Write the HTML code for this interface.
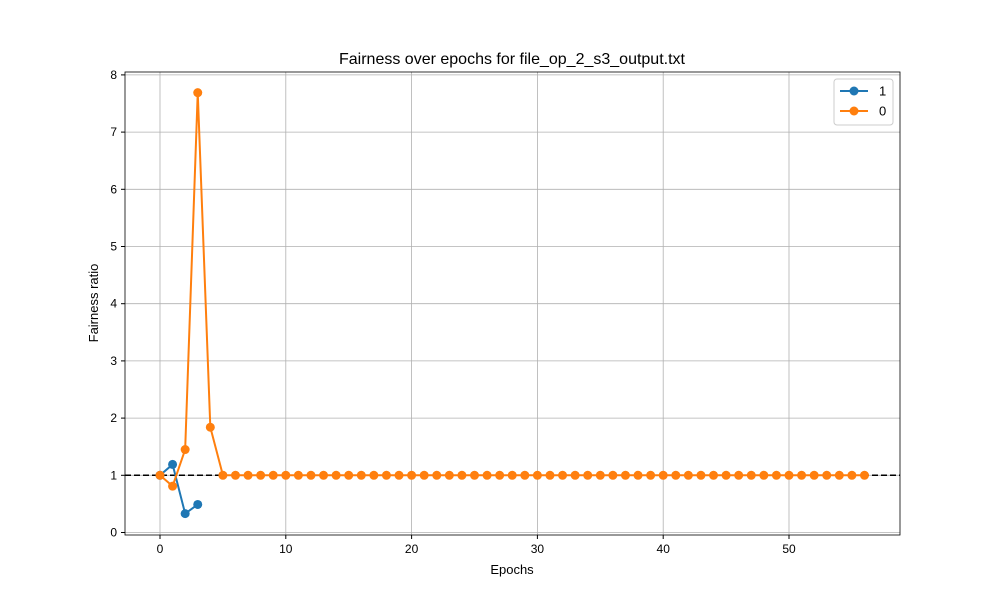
<!DOCTYPE html>
<html><head><meta charset="utf-8"><style>
body{margin:0;background:#fff;font-family:"Liberation Sans","DejaVu Sans",sans-serif;}
</style></head><body>
<svg id="chart" width="1000" height="600" xmlns="http://www.w3.org/2000/svg"></svg>
<script>
const epochs0 = Array.from({length:57},(_,i)=>i);
const series0 = [1.0,0.81,1.45,7.69,1.84].concat(Array(52).fill(1.0));
const epochs1 = [0,1,2,3];
const series1 = [1.0,1.19,0.33,0.49];
const xTicks = [0,10,20,30,40,50];
const yTicks = [0,1,2,3,4,5,6,7,8];
const L=125,R=900,T=72,B=535;
const sx=v=>160+v*(789-160)/50;
const sy=v=>532.5-v*57.2;
const svg=document.getElementById('chart');
const NS='http://www.w3.org/2000/svg';
function el(tag,attrs,parent){const e=document.createElementNS(NS,tag);for(const k in attrs)e.setAttribute(k,attrs[k]);(parent||svg).appendChild(e);return e;}
function txt(s,attrs){const t=el('text',attrs);t.textContent=s;return t;}
// grid
xTicks.forEach(v=>{const g=el('line',{x1:sx(v),x2:sx(v),y1:T,y2:B,stroke:'#b0b0b0','stroke-width':0.8});
});
yTicks.forEach(v=>{const g=el('line',{x1:L,x2:R,y1:sy(v),y2:sy(v),stroke:'#b0b0b0','stroke-width':0.8});
});
// ref line
const ref=el('line',{x1:L,x2:R,y1:sy(1),y2:sy(1),stroke:'#000','stroke-width':1.5,'stroke-dasharray':'6,3'});

function series(xs,ys,color,name){
 const p=el('polyline',{points:xs.map((x,i)=>sx(x)+','+sy(ys[i])).join(' '),fill:'none',stroke:color,'stroke-width':2});
 
 xs.forEach((x,i)=>{const c=el('circle',{cx:sx(x),cy:sy(ys[i]),r:4.5,fill:color});
 });
}
series(epochs1,series1,'#1f77b4','series-1');
series(epochs0,series0,'#ff7f0e','series-0');
// axes frame
const fr=el('rect',{x:L,y:T,width:R-L,height:B-T,fill:'none',stroke:'#000','stroke-width':0.8});

xTicks.forEach(v=>{el('line',{x1:sx(v),x2:sx(v),y1:B,y2:B+4,stroke:'#000'});
const t=txt(v,{x:sx(v),y:B+18,'text-anchor':'middle','font-size':12});
});
yTicks.forEach(v=>{el('line',{x1:L-4,x2:L,y1:sy(v),y2:sy(v),stroke:'#000'});
const t=txt(v,{x:L-8,y:sy(v)+4,'text-anchor':'end','font-size':12});
});
const xt=txt('Epochs',{x:512,y:574,'text-anchor':'middle','font-size':13});

const yt=txt('Fairness ratio',{x:98,y:303,'text-anchor':'middle','font-size':13,transform:'rotate(-90 98 303)'});

const tt=txt('Fairness over epochs for file_op_2_s3_output.txt',{x:512,y:64,'text-anchor':'middle','font-size':16});

// legend
const lg=el('g',{});

el('rect',{x:834,y:79,width:59,height:46,rx:3,fill:'#fff',stroke:'#ccc'},lg);
[['1','#1f77b4',91],['0','#ff7f0e',111]].forEach(([lab,c,y])=>{
 const g=el('g',{},lg);
 
 el('line',{x1:840,x2:868,y1:y,y2:y,stroke:c,'stroke-width':2},g);
 el('circle',{cx:854,cy:y,r:4.5,fill:c},g);
 const t=el('text',{x:879,y:y+4.5,'font-size':13},g);t.textContent=lab;
});
</script>
</body></html>
